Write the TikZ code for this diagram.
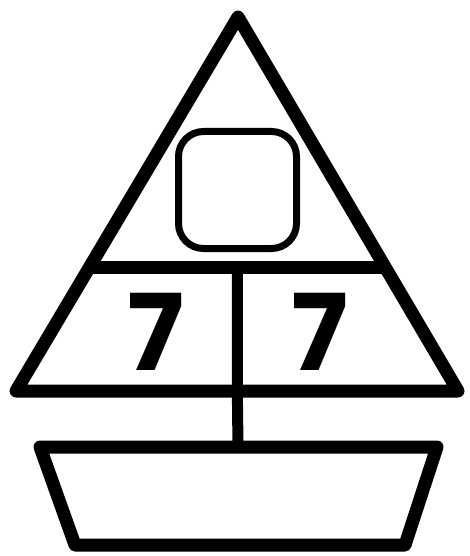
\documentclass[tikz,border=0pt]{standalone}
\usepackage{fontspec}
\setmainfont{Poppins}
\usetikzlibrary{calc}

\begin{document}
\begin{tikzpicture}[x=1pt, y=-1pt, line join=round,
    thick line/.style={line width=13pt},
    digit/.style={font=\fontsize{106}{106}\selectfont\bfseries, inner sep=0pt}]
        \useasboundingbox (0,0) rectangle (469,556);
        % sail
        \coordinate (apex) at (238,17);
        \coordinate (sail bl) at (16,391);
        \coordinate (sail br) at (458,391);
        \draw[thick line] (apex) -- (sail bl) -- (sail br) -- cycle;
        \coordinate (cut l) at ($(apex)!0.671!(sail bl)$);
        \coordinate (cut r) at ($(apex)!0.671!(sail br)$);
        \draw[thick line] (cut l) -- (cut r);
        \coordinate (cut mid) at ($(cut l)!0.5!(cut r)$);
        \coordinate (mast top) at (cut mid);
        \coordinate (mast low) at ($(sail bl)!(mast top)!(sail br)$);
        \node[draw, line width=7pt, rounded corners=25pt, minimum width=118pt,
              minimum height=117pt, inner sep=0pt] (total) at (237.5,190) {};
        \node[digit] (part a) at (156,332) {7};
        \node[digit] (part b) at (320,332) {7};
        % mast
        \coordinate (deck) at (238,447);
        \draw[line width=11pt] (mast top) -- (mast low) -- (deck);
        % hull
        \coordinate (hull tl) at (40,447);
        \coordinate (hull tr) at (437,447);
        \coordinate (hull br) at (405,545);
        \coordinate (hull bl) at (75,545);
        \draw[thick line] (hull tl) -- (hull tr) -- (hull br) -- (hull bl) -- cycle;
      \end{tikzpicture}
\end{document}
